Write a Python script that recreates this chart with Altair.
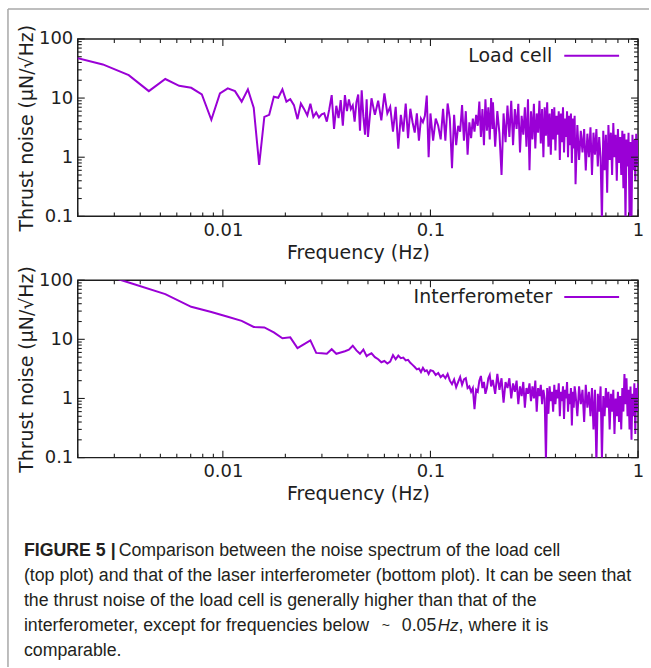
import altair as alt
import pandas as pd

# ---------------- data ----------------
SERIES = ["Load cell", "Interferometer"]

# load cell, low-frequency bins (every bin)
LC_F_LO = [0.00176, 0.00264, 0.00352, 0.0044, 0.00528, 0.00616, 0.00704, 0.00792, 0.0088, 0.00968,
           0.01056, 0.01144, 0.01232, 0.0132, 0.01408, 0.01496, 0.01584, 0.01672, 0.0176, 0.01848,
           0.01936, 0.02024, 0.02112, 0.022, 0.02288, 0.02376, 0.02464, 0.02552, 0.0264, 0.02728,
           0.02816, 0.02904, 0.02992, 0.0308, 0.03168, 0.03256, 0.03344, 0.03432, 0.0352, 0.03608,
           0.03696, 0.03784, 0.03872, 0.0396, 0.04048, 0.04136, 0.04224, 0.04312, 0.044, 0.04488,
           0.04576, 0.04664, 0.04752, 0.0484, 0.04928]
LC_V_LO = [53, 37, 24.4, 13.1, 21, 16.1, 14.9, 11.5, 4.3, 12,
           14.6, 13.1, 8.7, 14, 6.9, 0.74, 4.8, 5.2, 10.5, 10.1,
           14, 8.7, 9.6, 7.6, 4.4, 8.1, 6.5, 5.1, 8.0, 4.8,
           5.7, 4.7, 5.3, 5.5, 4.0, 6.5, 11.2, 3.0, 7.4, 4.6,
           9.2, 3.4, 11.2, 6.0, 9.5, 6.5, 7.5, 4.0, 8.5, 11.5,
           2.8, 13.5, 4.8, 2.4, 9.5]

# interferometer, low-frequency bins (every bin)
IF_F_LO = [0.00176, 0.00352, 0.00528, 0.00704, 0.0088, 0.01056, 0.01232, 0.01408, 0.01584, 0.0176,
           0.01936, 0.02112, 0.02288, 0.02464, 0.0264, 0.02816, 0.02992, 0.03168, 0.03344, 0.0352,
           0.03696, 0.03872, 0.04048, 0.04224, 0.044, 0.04576, 0.04752, 0.04928]
IF_V_LO = [195, 91.5, 58, 35.5, 29, 24, 20.5, 16.2, 15.9, 13.1,
           10.4, 10.8, 7.1, 8.3, 9.6, 5.9, 5.8, 5.7, 6.8, 5.7,
           6.0, 6.3, 6.7, 7.8, 6.5, 5.7, 6.7, 5.2]

# higher frequencies (shared sample positions)
F_HI1 = [0.05, 0.052, 0.054, 0.056, 0.058, 0.06, 0.062, 0.064, 0.066, 0.068,
         0.07, 0.072, 0.074, 0.076, 0.078, 0.08, 0.082, 0.084, 0.086, 0.088,
         0.09, 0.092, 0.094, 0.096, 0.098]
F_HI2 = [0.1, 0.103, 0.106, 0.109, 0.112, 0.115, 0.118, 0.121, 0.124, 0.127,
         0.13, 0.133, 0.136, 0.139, 0.142, 0.145, 0.148, 0.151, 0.154, 0.157,
         0.16, 0.163, 0.166, 0.169, 0.172, 0.175, 0.178, 0.181, 0.184, 0.187,
         0.19, 0.193, 0.196, 0.199]
F_HI3 = [0.2, 0.205, 0.21, 0.215, 0.22, 0.225, 0.23, 0.235, 0.24, 0.245,
         0.25, 0.255, 0.26, 0.265, 0.27, 0.275, 0.28, 0.285, 0.29, 0.295,
         0.3, 0.305, 0.31, 0.315, 0.32, 0.325, 0.33, 0.335, 0.34, 0.345,
         0.35, 0.355, 0.36, 0.365, 0.37, 0.375, 0.38, 0.385, 0.39, 0.395,
         0.4, 0.405, 0.41, 0.415, 0.42, 0.425, 0.43, 0.435, 0.44, 0.445,
         0.45, 0.455, 0.46, 0.465, 0.47, 0.475, 0.48, 0.485, 0.49, 0.495]
F_HI4 = [0.5, 0.51, 0.52, 0.53, 0.54, 0.55, 0.56, 0.57, 0.58, 0.59,
         0.6, 0.61, 0.62, 0.63, 0.64, 0.65, 0.66, 0.67, 0.68, 0.69,
         0.7, 0.71, 0.72, 0.73, 0.74, 0.75, 0.76, 0.77, 0.78, 0.79,
         0.8, 0.81, 0.82, 0.83, 0.84, 0.85, 0.86, 0.87, 0.88, 0.89,
         0.9, 0.91, 0.92, 0.93, 0.94, 0.95, 0.96, 0.97, 0.98, 0.99, 1.0]

LC_V_HI1 = [2.2, 9.9, 5.2, 9.0, 4.2, 12, 5.5, 7.1, 2.7, 7.1,
            1.4, 5.2, 2.7, 8.1, 2.1, 6.6, 3.9, 2.6, 5.5, 1.9,
            4.5, 3.9, 5.0, 11, 1.0]
LC_V_HI2 = [5.5, 1.9, 4.5, 3.4, 2.0, 6.6, 1.9, 8.1, 4.5, 0.65,
            5.2, 1.6, 3.4, 2.7, 7.6, 1.9, 6.0, 1.1, 3.9, 2.1,
            4.5, 2.7, 5.2, 3.4, 8.7, 2.2, 6.5, 1.6, 9.5, 2.8,
            7.0, 2.0, 10.0, 3.0]
LC_V_HI3 = [8.5, 1.5, 6.0, 2.5, 0.5, 5.5, 1.8, 7.5, 2.2, 9.0,
            1.6, 6.5, 3.0, 8.0, 1.2, 5.0, 2.4, 7.0, 1.5, 9.5,
            0.6, 6.0, 2.0, 8.0, 1.4, 5.5, 2.6, 9.0, 1.7, 6.5,
            1.0, 7.0, 2.3, 8.5, 1.5, 5.5, 1.1, 6.5, 2.0, 7.0,
            1.3, 5.0, 2.4, 6.0, 0.9, 5.5, 1.8, 7.0, 1.2, 4.5,
            2.2, 6.0, 1.0, 5.0, 1.6, 5.5, 0.8, 4.5, 1.4, 5.0]
LC_V_HI4 = [0.35, 3.5, 0.9, 2.8, 1.2, 3.0, 0.6, 2.5, 1.0, 3.2,
            0.5, 2.6, 1.1, 3.0, 0.7, 2.2, 1.0, 0.08, 2.8, 0.6,
            2.4, 0.25, 3.5, 0.9, 2.6, 0.5, 3.8, 1.0, 2.4, 0.4,
            3.0, 0.8, 2.2, 0.5, 2.8, 0.3, 2.5, 0.08, 2.0, 0.7,
            2.6, 0.09, 1.8, 0.08, 2.4, 0.6, 2.0, 0.4, 2.5, 0.7, 2.0]

IF_V_HI1 = [5.4, 5.8, 5.0, 4.6, 4.1, 4.3, 3.9, 4.2, 5.4, 4.6,
            5.3, 4.8, 4.9, 4.4, 4.5, 4.0, 3.7, 3.4, 3.1, 3.2,
            2.8, 3.3, 2.9, 3.0, 2.6]
IF_V_HI2 = [3.0, 2.9, 2.5, 2.7, 2.3, 2.5, 2.2, 2.6, 2.0, 1.75,
            2.1, 1.55, 1.9, 2.3, 1.7, 2.1, 2.2, 1.5, 1.6, 1.3,
            1.5, 0.66, 1.4, 1.3, 2.0, 2.4, 1.5, 1.9, 1.2, 1.5,
            2.2, 2.5, 1.6, 2.0]
IF_V_HI3 = [2.0, 1.2, 2.6, 1.4, 2.2, 0.85, 1.9, 1.5, 2.2, 1.0,
            1.8, 1.3, 2.0, 0.8, 1.6, 1.1, 1.9, 0.7, 1.5, 1.2,
            1.8, 0.9, 1.6, 1.0, 2.0, 0.6, 1.5, 1.1, 1.7, 0.8,
            1.4, 1.0, 0.09, 1.5, 0.55, 1.6, 0.9, 1.3, 0.6, 1.7,
            0.8, 1.4, 1.0, 1.8, 0.5, 1.3, 0.9, 1.6, 0.45, 1.4,
            1.0, 1.9, 0.6, 1.2, 0.8, 1.5, 0.35, 1.3, 0.7, 1.6]
IF_V_HI4 = [1.2, 0.5, 1.6, 0.8, 1.4, 0.4, 1.7, 0.7, 1.3, 0.5,
            1.5, 0.3, 1.4, 0.08, 1.2, 0.6, 1.6, 0.09, 1.1, 0.5,
            1.5, 0.7, 1.3, 0.3, 1.2, 0.6, 1.4, 0.25, 1.0, 0.5,
            1.3, 0.4, 1.1, 0.3, 1.5, 0.6, 2.6, 0.8, 2.2, 0.5,
            1.4, 0.3, 1.6, 0.2, 1.2, 0.5, 1.8, 0.25, 1.5, 0.6, 1.8]

X_MAJOR = [0.01, 0.1, 1]
X_MINOR = [0.002, 0.003, 0.004, 0.005, 0.006, 0.007, 0.008, 0.009,
           0.02, 0.03, 0.04, 0.05, 0.06, 0.07, 0.08, 0.09,
           0.2, 0.3, 0.4, 0.5, 0.6, 0.7, 0.8, 0.9]
Y_MAJOR = [0.1, 1, 10, 100]
Y_MINOR = [0.2, 0.3, 0.4, 0.5, 0.6, 0.7, 0.8, 0.9,
           2, 3, 4, 5, 6, 7, 8, 9,
           20, 30, 40, 50, 60, 70, 80, 90]

X_TITLE = "Frequency (Hz)"
Y_TITLE = "Thrust noise (\u03bcN/\u221aHz)"

CAP_BOLD = "FIGURE 5 |"
CAP_LINES = [
    "Comparison between the noise spectrum of the load cell",
    "(top plot) and that of the laser interferometer (bottom plot). It can be seen that",
    "the thrust noise of the load cell is generally higher than that of the",
    "interferometer, except for frequencies below",
    "comparable.",
]
CAP_TILDE = "~"
CAP_NUM = "0.05"
CAP_ITALIC = "Hz"
CAP_TAIL = ", where it is"

# ---------------- styling ----------------
W, H = 562, 178
LINE = "#9a00d6"
AX = "#1e1e1e"
FONT = "DejaVu Sans"
CAP_FONT = "Liberation Sans"
CAP_SIZE = 17.8

XS = alt.Scale(type="log", domain=[0.002, 1])
YS = alt.Scale(type="log", domain=[0.1, 100])
XA = alt.Axis(values=X_MAJOR, labelExpr="datum.value", title=X_TITLE, ticks=False, domain=False,
              grid=False, labelFont=FONT, titleFont=FONT, labelFontSize=18, titleFontSize=19,
              labelColor=AX, titleColor=AX, titleFontWeight="normal", labelPadding=5,
              titlePadding=4, labelFlush=False, labelOverlap=False)
YA = alt.Axis(values=Y_MAJOR, labelExpr="datum.value", title=Y_TITLE, ticks=False, domain=False,
              grid=False, labelFont=FONT, titleFont=FONT, labelFontSize=18, titleFontSize=19,
              labelColor=AX, titleColor=AX, titleFontWeight="normal", labelPadding=5,
              titlePadding=2, labelOverlap=False)


def xenc():
    return alt.X("f:Q", scale=XS, axis=XA)


def yenc():
    return alt.Y("v:Q", scale=YS, axis=YA)


def ticks():
    layers = []
    for vals, ln in ((X_MAJOR, 7), (X_MINOR, 4)):
        b = alt.Chart(pd.DataFrame({"f": vals})).mark_rule(color=AX, strokeWidth=1.1)
        layers.append(b.encode(x=xenc(), y=alt.value(H), y2=alt.value(H - ln)))
        layers.append(b.encode(x=xenc(), y=alt.value(0), y2=alt.value(ln)))
    for vals, ln in ((Y_MAJOR, 7), (Y_MINOR, 4)):
        b = alt.Chart(pd.DataFrame({"v": vals})).mark_rule(color=AX, strokeWidth=1.1)
        layers.append(b.encode(y=yenc(), x=alt.value(0), x2=alt.value(ln)))
        layers.append(b.encode(y=yenc(), x=alt.value(W), x2=alt.value(W - ln)))
    return layers


def panel(freqs, vals, name, frame=False):
    df = pd.DataFrame({"f": freqs, "v": vals})
    line = alt.Chart(df).mark_line(color=LINE, strokeWidth=2, clip=True).encode(x=xenc(), y=yenc())
    one = pd.DataFrame({"label": [name]})
    leg_text = alt.Chart(one).mark_text(
        align="right", baseline="middle", font=FONT, fontSize=19, color=AX
    ).encode(text="label:N", x=alt.value(476), y=alt.value(17))
    leg_line = alt.Chart(one).mark_rule(color=LINE, strokeWidth=2).encode(
        x=alt.value(488), x2=alt.value(543), y=alt.value(17))
    layers = [line] + ticks() + [leg_text, leg_line]
    if frame:
        fr = alt.Chart(pd.DataFrame({"a": [0]})).mark_rule(color="#a8a8a8", strokeWidth=1.5)
        layers.append(fr.encode(x=alt.value(-70), x2=alt.value(573), y=alt.value(-30)))
        layers.append(fr.encode(x=alt.value(-70), y=alt.value(-30), y2=alt.value(630)))
    return alt.layer(*layers).properties(
        width=W, height=H, view=alt.ViewBackground(stroke=AX, strokeWidth=1.5))


top = panel(LC_F_LO + F_HI1 + F_HI2 + F_HI3 + F_HI4,
            LC_V_LO + LC_V_HI1 + LC_V_HI2 + LC_V_HI3 + LC_V_HI4, SERIES[0], frame=True)
bottom = panel(IF_F_LO + F_HI1 + F_HI2 + F_HI3 + F_HI4,
               IF_V_LO + IF_V_HI1 + IF_V_HI2 + IF_V_HI3 + IF_V_HI4, SERIES[1])


def txt(s, x, y, size=CAP_SIZE, **kw):
    return alt.Chart(pd.DataFrame({"t": [s]})).mark_text(
        align="left", baseline="middle", font=CAP_FONT, fontSize=size, color="#231f20", **kw
    ).encode(text="t:N", x=alt.value(x), y=alt.value(y))


LY = [30, 55, 80, 105, 130]
cap_layers = [
    txt(CAP_BOLD, -54, LY[0], fontWeight="bold"),
    txt(CAP_LINES[0], 41, LY[0]),
    txt(CAP_LINES[1], -54, LY[1]),
    txt(CAP_LINES[2], -54, LY[2]),
    txt(CAP_LINES[3], -54, LY[3]),
    txt(CAP_TILDE, 305, LY[3], size=14),
    txt(CAP_NUM, 325, LY[3]),
    txt(CAP_ITALIC, 361, LY[3], size=17, fontStyle="italic"),
    txt(CAP_TAIL, 382, LY[3]),
    txt(CAP_LINES[4], -54, LY[4]),
]
caption = alt.layer(*cap_layers).properties(
    width=W, height=140, view=alt.ViewBackground(stroke="transparent"))

chart = alt.vconcat(top, bottom, caption, spacing=64, bounds="flush").properties(
    padding={"left": 6, "top": 6, "right": 0, "bottom": 0}
).configure_view(stroke="transparent")

chart.save("out.html", embed_options={"renderer": "svg", "actions": False})
